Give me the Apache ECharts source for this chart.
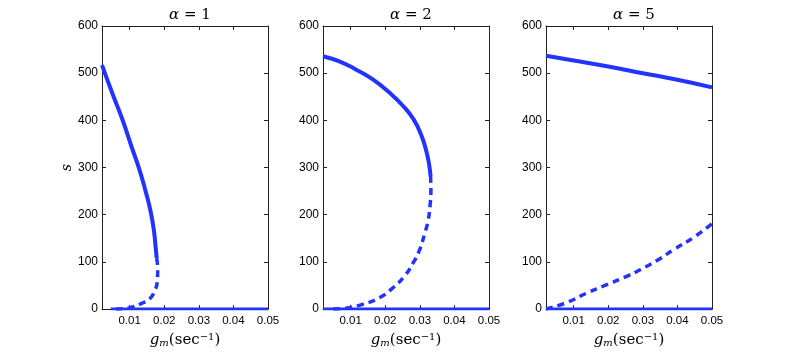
<!DOCTYPE html>
<html>
<head>
<meta charset="utf-8">
<script src="https://cdn.jsdelivr.net/npm/echarts@6/dist/echarts.min.js"></script>
<style>
  html, body { margin: 0; padding: 0; background: #fff; }
  #container { width: 789px; height: 353px; }
</style>
</head>
<body>
<div id="container"></div>
<script>
var dom = document.getElementById("container");
var myChart = echarts.init(dom);

// panel titles (alpha values)
var alphas = [1, 2, 5];
var xTicks = [0.01, 0.02, 0.03, 0.04, 0.05];

// alpha = 1
var a1UpperX = [0.002, 0.0049, 0.0078, 0.0106, 0.0128, 0.0146, 0.0160, 0.0170, 0.0175, 0.0178];
var a1UpperY = [517, 459, 404, 343, 296, 250, 209, 167, 132, 108];
var a1LowerX = [0.0178, 0.0181, 0.0180, 0.0172, 0.0158, 0.0135, 0.0110, 0.0085, 0.0060];
var a1LowerY = [108, 85, 60, 38, 22, 12, 5, 1, 0];
var a1ZeroX = [0.0045, 0.05];
var a1ZeroY = [0, 0];

// alpha = 2
var a2UpperX = [0.002, 0.0067, 0.0115, 0.0164, 0.0212, 0.0251, 0.0282, 0.0304, 0.0319, 0.0327, 0.0331];
var a2UpperY = [536, 525, 508, 487, 459, 431, 402, 369, 334, 306, 282];
var a2LowerX = [0.0331, 0.0332, 0.0330, 0.0324, 0.0314, 0.0299, 0.0280, 0.0256, 0.0222, 0.0183, 0.0134, 0.0086, 0.0037];
var a2LowerY = [282, 250, 223, 188, 160, 125, 97, 70, 45, 24, 10, 2, 0];
var a2ZeroX = [0.002, 0.05];
var a2ZeroY = [0, 0];

// alpha = 5
var a5UpperX = [0.002, 0.01, 0.02, 0.03, 0.04, 0.05];
var a5UpperY = [537, 527, 514, 500, 486, 470];
var a5LowerX = [0.002, 0.0080, 0.0138, 0.0187, 0.0255, 0.0294, 0.0352, 0.0391, 0.0449, 0.05];
var a5LowerY = [0, 14, 34, 49, 70, 84, 108, 127, 153, 181];
var a5ZeroX = [0.002, 0.05];
var a5ZeroY = [0, 0];

var upperX = [a1UpperX, a2UpperX, a5UpperX];
var upperY = [a1UpperY, a2UpperY, a5UpperY];
var lowerX = [a1LowerX, a2LowerX, a5LowerX];
var lowerY = [a1LowerY, a2LowerY, a5LowerY];
var zeroX = [a1ZeroX, a2ZeroX, a5ZeroX];
var zeroY = [a1ZeroY, a2ZeroY, a5ZeroY];

function zip(xs, ys) {
    var out = [];
    for (var i = 0; i < xs.length; i++) out.push([xs[i], ys[i]]);
    return out;
}

var blue = '#2233ff';
var lefts = [102, 323, 546];
var plotW = 166;
var serif = '"DejaVu Serif", "Liberation Serif", serif';
var sans = '"Liberation Sans", Arial, sans-serif';

var grid = [], xAxis = [], yAxis = [], series = [], title = [];

for (var p = 0; p < 3; p++) {
    grid.push({left: lefts[p], top: 26, width: plotW, height: 287});
    title.push({
        text: '{a|α} = ' + alphas[p],
        left: lefts[p] + plotW / 2,
        textAlign: 'center',
        top: 3,
        textStyle: {
            fontFamily: serif, fontSize: 15, fontWeight: 'normal', color: '#000',
            rich: {a: {fontFamily: serif, fontStyle: 'italic', fontSize: 15, color: '#000'}}
        }
    });
    // bottom axis
    xAxis.push({
        type: 'value', gridIndex: p, min: 0.002, max: 0.05,
        axisLine: {show: true, onZero: false, lineStyle: {color: '#222', width: 1}},
        axisTick: {show: true, inside: true, length: 4, customValues: xTicks, lineStyle: {color: '#222'}},
        axisLabel: {customValues: xTicks, color: '#000', fontFamily: sans, fontSize: 11.5, margin: 6,
            formatter: function (v) { return v.toFixed(2); }},
        splitLine: {show: false},
        name: '{i|g}{s|m}{n|(sec}{p|−1}{n|)}',
        nameLocation: 'middle', nameGap: 21,
        nameTextStyle: {
            fontFamily: serif, fontSize: 15, color: '#000',
            rich: {
                i: {fontFamily: serif, fontStyle: 'italic', fontSize: 15, color: '#000', verticalAlign: 'middle'},
                s: {fontFamily: serif, fontStyle: 'italic', fontSize: 10, color: '#000', verticalAlign: 'bottom', padding: [6, 0, 0, 0]},
                n: {fontFamily: serif, fontSize: 15, color: '#000', verticalAlign: 'middle'},
                p: {fontFamily: serif, fontSize: 10, color: '#000', verticalAlign: 'top', padding: [0, 0, 6, 0]}
            }
        }
    });
    // top mirror axis
    xAxis.push({
        type: 'value', gridIndex: p, position: 'top', min: 0.002, max: 0.05,
        axisLine: {show: true, onZero: false, lineStyle: {color: '#222', width: 1}},
        axisTick: {show: true, inside: true, length: 4, customValues: xTicks, lineStyle: {color: '#222'}},
        axisLabel: {show: false},
        splitLine: {show: false}
    });
    yAxis.push({
        type: 'value', gridIndex: p, min: 0, max: 600, interval: 100,
        axisLine: {show: true, onZero: false, lineStyle: {color: '#222', width: 1}},
        axisTick: {show: true, inside: true, length: 4, lineStyle: {color: '#222'}},
        axisLabel: {color: '#000', fontFamily: sans, fontSize: 12, margin: 4},
        splitLine: {show: false},
        name: p === 0 ? 's' : '',
        nameLocation: 'middle', nameGap: 27, nameRotate: 90,
        nameTextStyle: {fontFamily: serif, fontStyle: 'italic', fontSize: 14, color: '#000'}
    });
    yAxis.push({
        type: 'value', gridIndex: p, position: 'right', min: 0, max: 600, interval: 100,
        axisLine: {show: true, onZero: false, lineStyle: {color: '#222', width: 1}},
        axisTick: {show: true, inside: true, length: 4, lineStyle: {color: '#222'}},
        axisLabel: {show: false},
        splitLine: {show: false}
    });

    series.push({
        type: 'line', xAxisIndex: p * 2, yAxisIndex: p * 2, symbol: 'none', smooth: 0.5,
        data: zip(upperX[p], upperY[p]),
        lineStyle: {color: blue, width: 4}
    });
    series.push({
        type: 'line', xAxisIndex: p * 2, yAxisIndex: p * 2, symbol: 'none', smooth: 0.5,
        data: zip(lowerX[p], lowerY[p]),
        lineStyle: {color: blue, width: 3.5, type: [7, 5]}
    });
    series.push({
        type: 'line', xAxisIndex: p * 2, yAxisIndex: p * 2, symbol: 'none',
        data: zip(zeroX[p], zeroY[p]),
        lineStyle: {color: blue, width: 3}
    });
}

var option = {
    animation: false,
    backgroundColor: '#fff',
    title: title,
    grid: grid,
    xAxis: xAxis,
    yAxis: yAxis,
    series: series
};

myChart.setOption(option, true);
</script>
</body>
</html>
